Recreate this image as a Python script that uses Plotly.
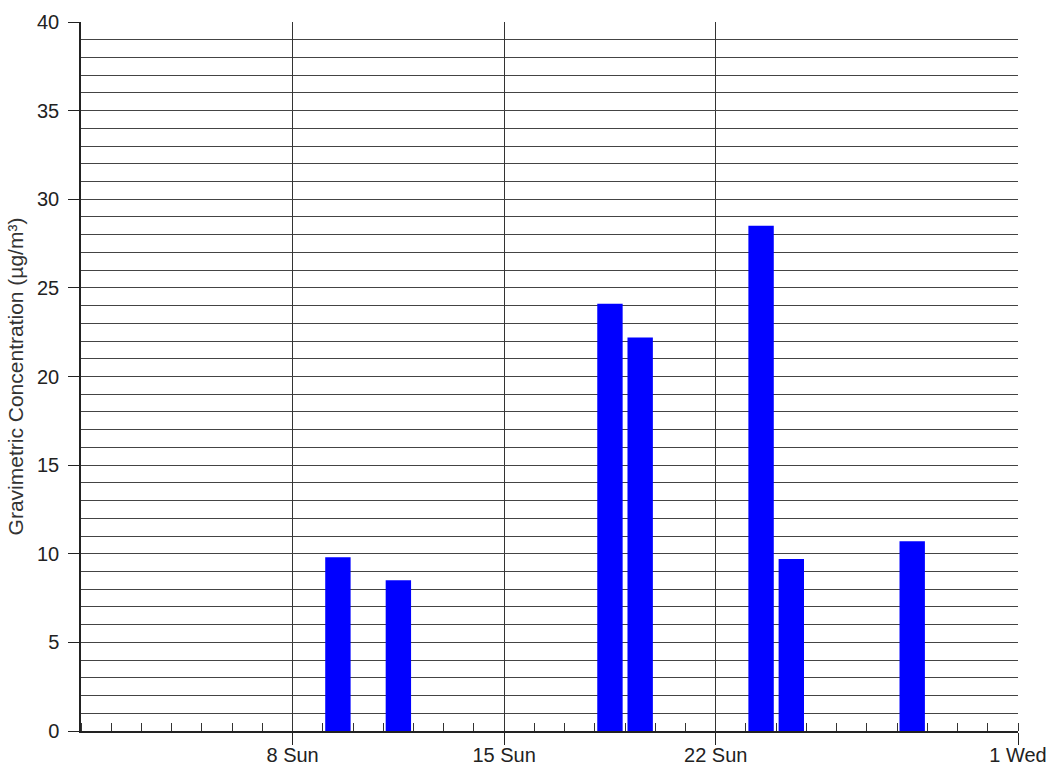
import plotly.graph_objects as go

# Daily gravimetric samples (bar centred at midday of each sampling day)
sample_days = ["2015-03-09 12:00", "2015-03-11 12:00", "2015-03-18 12:00",
               "2015-03-19 12:00", "2015-03-23 12:00", "2015-03-24 12:00",
               "2015-03-28 12:00"]
concentration = [9.8, 8.5, 24.1, 22.2, 28.5, 9.7, 10.7]

# Weekly tick marks and their labels
week_ticks = ["2015-03-08", "2015-03-15", "2015-03-22", "2015-04-01"]
week_labels = ["8 Sun", "15 Sun", "22 Sun", "1 Wed"]

DAY_MS = 86400000

fig = go.Figure(
    go.Bar(
        x=sample_days,
        y=concentration,
        width=0.84 * DAY_MS,
        marker=dict(color="#0000FF", line=dict(width=0)),
    )
)

fig.update_layout(
    width=1053,
    height=765,
    margin=dict(l=81, r=35, t=22, b=34),
    plot_bgcolor="white",
    paper_bgcolor="white",
    showlegend=False,
    font=dict(family="Liberation Sans, Arial, sans-serif", size=20, color="#222"),
)

fig.update_xaxes(
    type="date",
    automargin=False,
    range=["2015-03-01", "2015-04-01"],
    tickvals=week_ticks,
    ticktext=week_labels,
    ticks="outside",
    ticklen=12,
    tickcolor="#222",
    ticklabelstandoff=-7,
    showgrid=True,
    gridcolor="#333",
    gridwidth=1,
    showline=True,
    linecolor="#222",
    linewidth=1.5,
    zeroline=False,
    minor=dict(
        tick0="2015-03-01",
        dtick=DAY_MS,
        ticks="inside",
        ticklen=8,
        tickcolor="#333",
        showgrid=False,
    ),
)

fig.update_yaxes(
    automargin=False,
    range=[0, 40],
    dtick=5,
    tick0=0,
    ticks="outside",
    ticklen=11,
    tickcolor="#222",
    ticklabelstandoff=5,
    showgrid=True,
    gridcolor="#444",
    gridwidth=1,
    showline=True,
    linecolor="#222",
    linewidth=1.5,
    zeroline=False,
    minor=dict(dtick=1, showgrid=True, gridcolor="#444", gridwidth=1, ticks=""),
    title=dict(text="Gravimetric Concentration (µg/m³)",
               font=dict(size=21, color="#333"), standoff=8),
)

fig.write_html("out.html")
